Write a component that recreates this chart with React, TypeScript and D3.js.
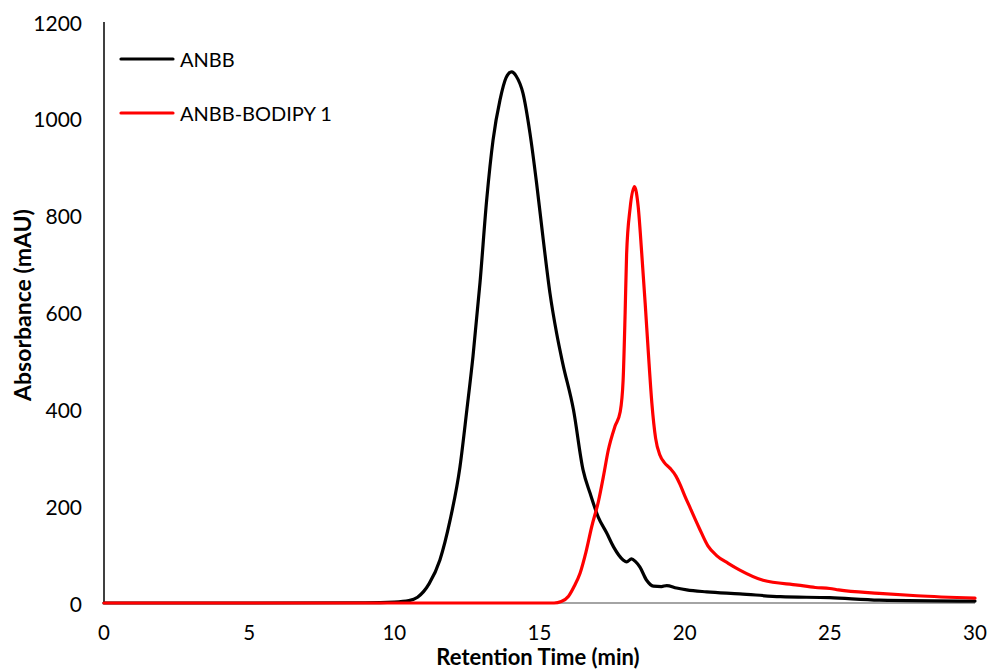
import React from "react";
import * as d3 from "d3";

const xTicks = [0, 5, 10, 15, 20, 25, 30];
const yTicks = [0, 200, 400, 600, 800, 1000, 1200];

const anbbTime = [0, 5, 9, 10, 10.5, 10.8, 11.2, 11.57, 11.92, 12.26, 12.5, 12.71, 12.95, 13.18, 13.4, 13.64, 13.85, 14.04, 14.2, 14.43, 14.67, 14.9, 15.13, 15.36, 15.59, 15.8, 16.17, 16.5, 16.74, 17.02, 17.32, 17.55, 17.88, 18.0, 18.17, 18.3, 18.46, 18.69, 18.92, 19.2, 19.38, 19.72, 20.07, 20.76, 21.9, 23.3, 25, 26.7, 30];
const anbbAbs = [0, 0, 0.5, 2, 5, 12, 40, 89, 171, 281, 400, 510, 661, 832, 956, 1039, 1085, 1097, 1088, 1053, 971, 867, 750, 640, 557, 495, 399, 275, 227, 178, 144, 116, 89, 85, 91, 86, 74, 47, 35, 34, 36, 31, 27, 23, 19, 13, 11, 6, 4];

const bodipyTime = [0, 5, 10, 15, 15.5, 15.75, 16.0, 16.2, 16.4, 16.6, 16.8, 17.03, 17.2, 17.37, 17.6, 17.78, 17.88, 17.95, 18.0, 18.12, 18.27, 18.4, 18.52, 18.64, 18.75, 18.87, 19.0, 19.15, 19.3, 19.5, 19.7, 19.84, 20.0, 20.2, 20.5, 20.8, 21.1, 21.5, 21.9, 22.7, 23.9, 24.5, 25.0, 25.3, 26.7, 28, 30];
const bodipyAbs = [0, 0, 0, 0, 0, 3, 14, 35, 62, 105, 158, 210, 261, 316, 365, 395, 460, 600, 720, 815, 860, 818, 723, 619, 516, 413, 340, 305, 290, 278, 262, 245, 222, 195, 155, 118, 98, 82, 68, 47, 37, 32, 30, 27, 20, 15, 10];

const seriesNames = ["ANBB", "ANBB-BODIPY 1"];
const seriesColors = ["#000000", "#ff0000"];

const FONT = "Lato, 'Open Sans', sans-serif";

export default function App() {
  const W = 990, H = 670;
  const x = d3.scaleLinear().domain([0, 30]).range([104, 975]);
  const y = d3.scaleLinear().domain([0, 1200]).range([603, 22]);
  const line = d3
    .line<[number, number]>()
    .x((d) => x(d[0]))
    .y((d) => y(d[1]))
    .curve(d3.curveMonotoneX);
  const anbb = anbbTime.map((t, i) => [t, anbbAbs[i]] as [number, number]);
  const bod = bodipyTime.map((t, i) => [t, bodipyAbs[i]] as [number, number]);

  return (
    <svg width={W} height={H} style={{ position: "absolute", left: 0, top: 0, background: "#fff" }} fontFamily={FONT}>
      <rect width={W} height={H} fill="#fff" />
      {/* axes */}
      <line x1={x(0)} x2={x(30)} y1={y(0)} y2={y(0)} stroke="#868686" strokeWidth={1.3} />
      <line x1={x(0)} x2={x(0)} y1={y(0)} y2={y(1200)} stroke="#000" strokeWidth={1.5} />
      {yTicks.map((v) => (
        <text key={v} x={82} y={y(v)} textAnchor="end" dominantBaseline="central" fontSize={21} fill="#000">
          {v}
        </text>
      ))}
      {xTicks.map((v) => (
        <text key={v} x={x(v)} y={632} textAnchor="middle" dominantBaseline="central" fontSize={20.5} fill="#000">
          {v}
        </text>
      ))}
      <text x={538} y={665} textAnchor="middle" fontSize={22} fontWeight="bold">
        Retention Time (min)
      </text>
      <text transform={`translate(22,305) rotate(-90)`} textAnchor="middle" dominantBaseline="central" fontSize={23} fontWeight="bold">
        Absorbance (mAU)
      </text>
      {/* series */}
      <path d={line(anbb) || ""} fill="none" stroke={seriesColors[0]} strokeWidth={3.2} strokeLinejoin="round" strokeLinecap="round" />
      <path d={line(bod) || ""} fill="none" stroke={seriesColors[1]} strokeWidth={3.2} strokeLinejoin="round" strokeLinecap="round" />
      {/* legend */}
      {seriesNames.map((n, i) => (
        <g key={n} transform={`translate(0,${59 + i * 54})`}>
          <line x1={121} x2={173} y1={0} y2={0} stroke={seriesColors[i]} strokeWidth={3.2} strokeLinecap="round" />
          <text x={180} y={0} dominantBaseline="central" fontSize={20}>
            {n}
          </text>
        </g>
      ))}
    </svg>
  );
}
